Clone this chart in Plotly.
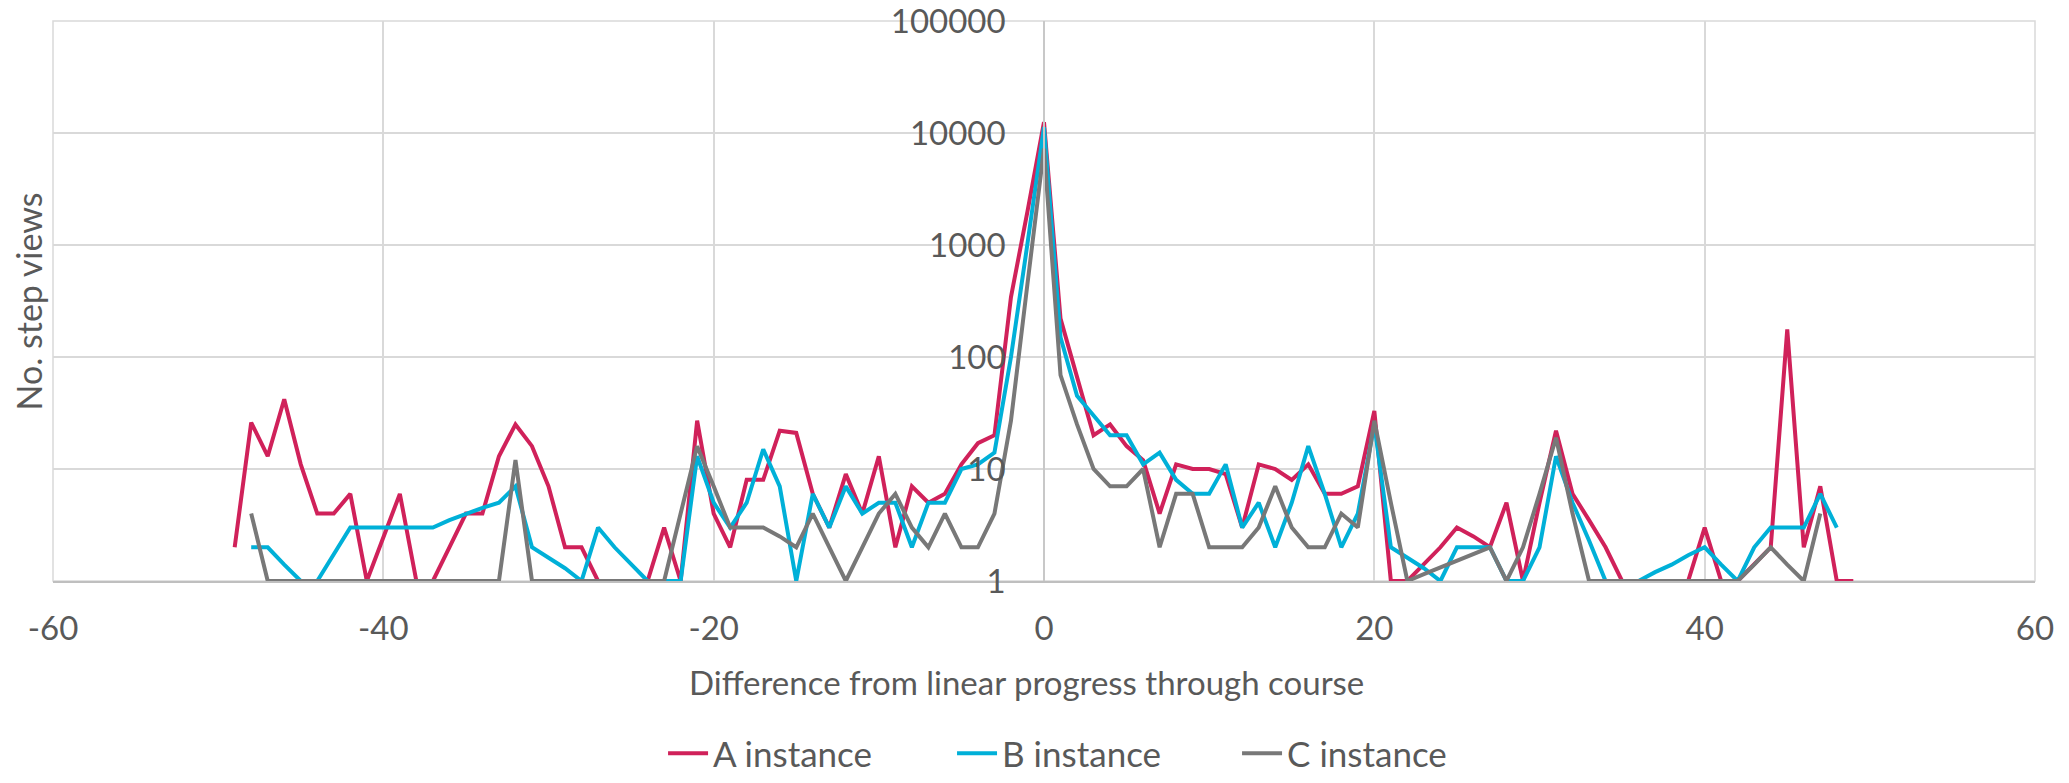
import plotly.graph_objects as go

# Step-view counts by offset from linear progress through the course
a_offsets = list(range(-49, 50))
a_views = [2, 26, 13, 42, 11, 4, 4, 6, 1, 2.5,
           6, 1, 1, 2, 4, 4, 13, 25, 16, 7,
           2, 2, 1, 1, 1, 1, 3, 1, 27, 4,
           2, 8, 8, 22, 21, 6, 3, 9, 4, 13,
           2, 7, 5, 6, 11, 17, 20, 343, 2000, 12500,
           220, 66, 20, 25, 16, 12, 4, 11, 10, 10,
           9, 3, 11, 10, 8, 11, 6, 6, 7, 33,
           1, 1, 1.4, 2, 3, 2.5, 2, 5, 1, 5,
           22, 6, 3.5, 2, 1, 1, 1, 1, 1, 3,
           1, 1, 1.4, 2, 176, 2, 7, 1, 1]

b_offsets = list(range(-48, 49))
b_views = [2, 2, 1.4, 1, 1, 1.7, 3, 3, 3, 3,
           3, 3, 3.5, 4, 4.5, 5, 7, 2, 1.6, 1.3,
           1, 3, 2, 1.4, 1, 1, 1, 13, 5, 3,
           5, 15, 7, 1, 6, 3, 7, 4, 5, 5,
           2, 5, 5, 10, 11, 14, 100, 1030, 11300, 150,
           45, 30, 20, 20, 11, 14, 8, 6, 6, 11,
           3, 5, 2, 5, 16, 6, 2, 4, 25, 2,
           1.6, 1.3, 1, 2, 2, 2, 1, 1, 2, 13,
           5, 2.3, 1, 1, 1, 1.2, 1.4, 1.7, 2, 1.4,
           1, 2, 3, 3, 3, 6, 3]

c_offsets = list(range(-48, 48))
c_views = [4, 1, 1, 1, 1, 1, 1, 1, 1, 1,
           1, 1, 1, 1, 1, 1, 12, 1, 1, 1,
           1, 1, 1, 1, 1, 1, 4, 16, 7, 3,
           3, 3, 2.5, 2, 4, 2, 1, 2, 4, 6,
           3, 2, 4, 2, 2, 4, 27, 452, 7260, 69,
           25, 10, 7, 7, 10, 2, 6, 6, 2, 2,
           2, 3, 7, 3, 2, 2, 4, 3, 27, 5,
           1, 1.15, 1.32, 1.52, 1.74, 2, 1, 2, 6, 19,
           4, 1, 1, 1, 1, 1, 1, 1, 1, 1,
           1, 1.4, 2, 1.4, 1, 4]

series_names = ["A instance", "B instance", "C instance"]
series_colors = ["#D0215A", "#00B0D8", "#787878"]

x_ticks = [-60, -40, -20, 0, 20, 40, 60]
x_tick_text = ["-60", "-40", "-20", "0", "20", "40", "60"]
y_ticks = [1, 10, 100, 1000, 10000, 100000]
y_tick_text = ["1", "10", "100", "1000", "10000", "100000"]

FONT = "Lato"
TEXT = "#595959"
GRID = "#d9d9d9"

# one legend box per series so the entries sit at fixed spacing
legend_ids = ["legend", "legend2", "legend3"]
legend_x = [0.3078, 0.4536, 0.5974]

fig = go.Figure()
for name, xs, ys, color, lid in zip(series_names,
                                    [a_offsets, b_offsets, c_offsets],
                                    [a_views, b_views, c_views],
                                    series_colors, legend_ids):
    fig.add_trace(go.Scatter(x=xs, y=ys, mode="lines", name=name,
                             legend=lid, line=dict(color=color, width=4)))

legend_style = dict(orientation="h", xanchor="left", yref="container",
                    y=0.0, yanchor="bottom", itemwidth=40,
                    bgcolor="rgba(0,0,0,0)",
                    font=dict(family=FONT, size=35, color=TEXT))
legends = {lid: dict(legend_style, x=lx) for lid, lx in zip(legend_ids, legend_x)}

fig.update_layout(
    width=2069, height=783,
    margin=dict(l=53, r=34, t=21, b=202, autoexpand=False),
    plot_bgcolor="white", paper_bgcolor="white",
    font=dict(family=FONT, size=33, color=TEXT),
    showlegend=True,
    **legends,
    xaxis=dict(range=[-60, 60], tickvals=x_ticks, ticktext=x_tick_text,
               showgrid=True, gridcolor=GRID, gridwidth=1.5, zeroline=False,
               showline=True, linecolor="#bfbfbf", linewidth=1.5,
               ticks="", ticklabelstandoff=18, ticklabeloverflow="allow",
               tickfont=dict(family=FONT, size=33, color=TEXT)),
    yaxis=dict(type="log", range=[0, 5], tickvals=y_ticks,
               ticktext=y_tick_text, anchor="free", position=0.5,
               showgrid=True, gridcolor=GRID, gridwidth=1.5,
               zeroline=False, showline=True, linecolor="#c8c8c8",
               linewidth=1.5, ticks="", ticklabelstandoff=31,
               ticklabeloverflow="allow",
               tickfont=dict(family=FONT, size=33, color=TEXT)),
    shapes=[
        # outer frame of the plotting area
        dict(type="rect", xref="paper", yref="paper", x0=0, x1=1, y0=0, y1=1,
             line=dict(color=GRID, width=1.5), layer="below"),
    ],
    annotations=[
        dict(text="Difference from linear progress through course",
             xref="paper", yref="paper", x=0.491, y=-0.1804,
             xanchor="center", yanchor="middle", showarrow=False,
             font=dict(family=FONT, size=33, color=TEXT)),
        dict(text="No. step views", textangle=-90,
             xref="paper", yref="paper", x=-0.0122, y=0.499,
             xanchor="center", yanchor="middle", showarrow=False,
             font=dict(family=FONT, size=34, color=TEXT)),
    ],
)

fig.write_html("out.html")
